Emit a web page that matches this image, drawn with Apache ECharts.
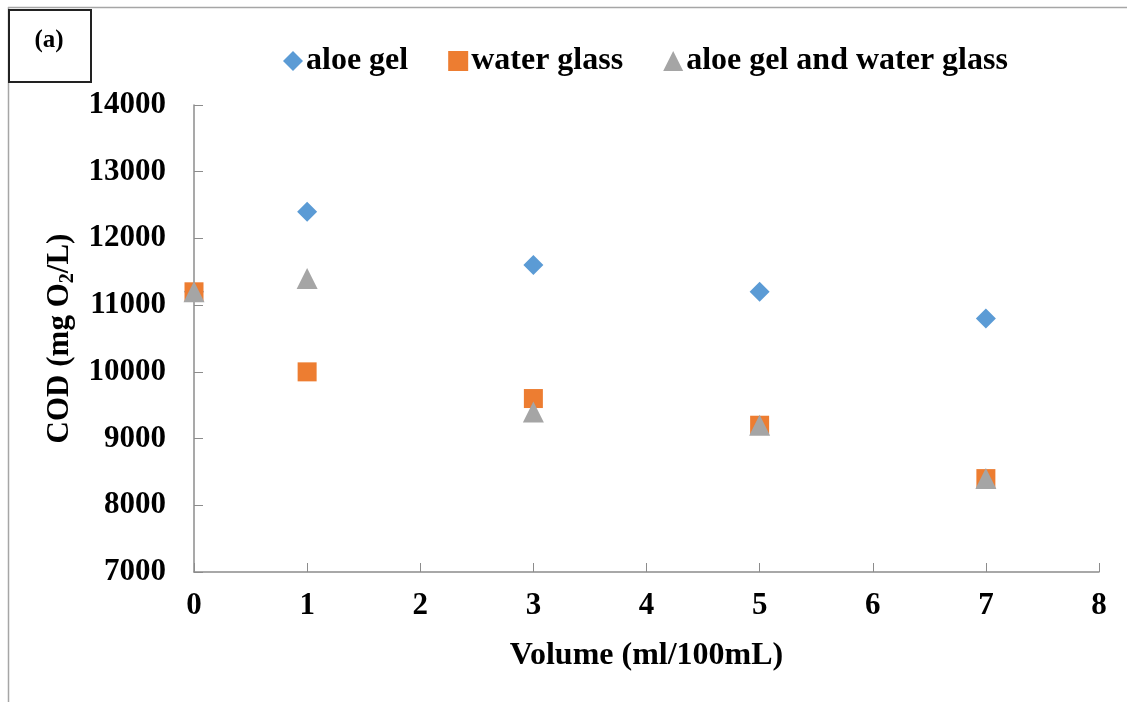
<!DOCTYPE html>
<html><head><meta charset="utf-8">
<script src="https://cdn.jsdelivr.net/npm/echarts@6/dist/echarts.min.js"></script>
<style>html,body{margin:0;padding:0;background:#fff}#c{width:1127px;height:702px}</style>
</head><body><div id="c"></div>
<script>
const xValues = [0, 1, 3, 5, 7];
const aloeGel = [11200, 12400, 11600, 11200, 10800];
const waterGlass = [11200, 10000, 9600, 9200, 8400];
const aloeAndWater = [11200, 11400, 9400, 9200, 8400];
const seriesNames = ['aloe gel', 'water glass', 'aloe gel and water glass'];
const xTicks = [0, 1, 2, 3, 4, 5, 6, 7, 8];
const yTicks = [7000, 8000, 9000, 10000, 11000, 12000, 13000, 14000];

const font = 'Liberation Serif';
const pts = arr => xValues.map((x, i) => [x, arr[i]]);
const chart = echarts.init(document.getElementById('c'));
chart.setOption({
  backgroundColor: '#fff',
  animation: false,
  graphic: [
    {type: 'line', shape: {x1: 8, y1: 7.5, x2: 1127, y2: 7.5}, style: {stroke: '#a6a6a6', lineWidth: 1.5}},
    {type: 'line', shape: {x1: 8.5, y1: 7, x2: 8.5, y2: 702}, style: {stroke: '#a6a6a6', lineWidth: 1.5}},
    {type: 'rect', shape: {x: 9, y: 10, width: 82, height: 72}, style: {fill: '#fff', stroke: '#222', lineWidth: 2}},
    {type: 'text', x: 49, y: 41, style: {text: '(a)', fontFamily: font, fontWeight: 'bold', fontSize: 25, fill: '#000', align: 'center', verticalAlign: 'middle'}}
  ],
  legend: {
    left: 278, top: 40,
    itemGap: 40, itemWidth: 20, itemHeight: 20,
    textStyle: {fontFamily: font, fontWeight: 'bold', fontSize: 32, color: '#000', padding: [0, 0, 0, -2]},
    data: [
      {name: seriesNames[0], icon: 'diamond'},
      {name: seriesNames[1], icon: 'rect'},
      {name: seriesNames[2], icon: 'triangle'}
    ]
  },
  grid: {left: 194, right: 28, top: 105, bottom: 130},
  xAxis: {
    type: 'value', min: xTicks[0], max: xTicks[xTicks.length - 1], interval: 1,
    name: 'Volume (ml/100mL)', nameLocation: 'middle', nameGap: 68,
    nameTextStyle: {fontFamily: font, fontWeight: 'bold', fontSize: 32, color: '#000'},
    axisLine: {lineStyle: {color: '#8c8c8c', width: 1.5}},
    axisTick: {inside: true, length: 9, lineStyle: {color: '#8c8c8c'}},
    axisLabel: {fontFamily: font, fontWeight: 'bold', fontSize: 31, color: '#000', margin: 18},
    splitLine: {show: false}
  },
  yAxis: {
    type: 'value', min: yTicks[0], max: yTicks[yTicks.length - 1], interval: 1000,
    name: '{a|COD (mg O}{s|2}{a|/L)}', nameLocation: 'middle', nameGap: 112,
    nameTextStyle: {
      rich: {
        a: {fontFamily: font, fontWeight: 'bold', fontSize: 31, color: '#000', verticalAlign: 'middle'},
        s: {fontFamily: font, fontWeight: 'bold', fontSize: 20, color: '#000', padding: [15, 0, 0, 0]}
      }
    },
    axisLine: {show: true, lineStyle: {color: '#8c8c8c', width: 1.5}},
    axisTick: {show: true, inside: true, length: 9, lineStyle: {color: '#8c8c8c'}},
    axisLabel: {fontFamily: font, fontWeight: 'bold', fontSize: 31, color: '#000', margin: 28, formatter: v => String(v)},
    splitLine: {show: false}
  },
  series: [
    {name: seriesNames[0], type: 'scatter', symbol: 'diamond', symbolSize: 20, itemStyle: {color: '#5b9bd5', opacity: 1}, data: pts(aloeGel)},
    {name: seriesNames[1], type: 'scatter', symbol: 'rect', symbolSize: 19, itemStyle: {color: '#ed7d31', opacity: 1}, data: pts(waterGlass)},
    {name: seriesNames[2], type: 'scatter', symbol: 'triangle', symbolSize: 21, itemStyle: {color: '#a5a5a5', opacity: 1}, data: pts(aloeAndWater)}
  ]
});
</script></body></html>
